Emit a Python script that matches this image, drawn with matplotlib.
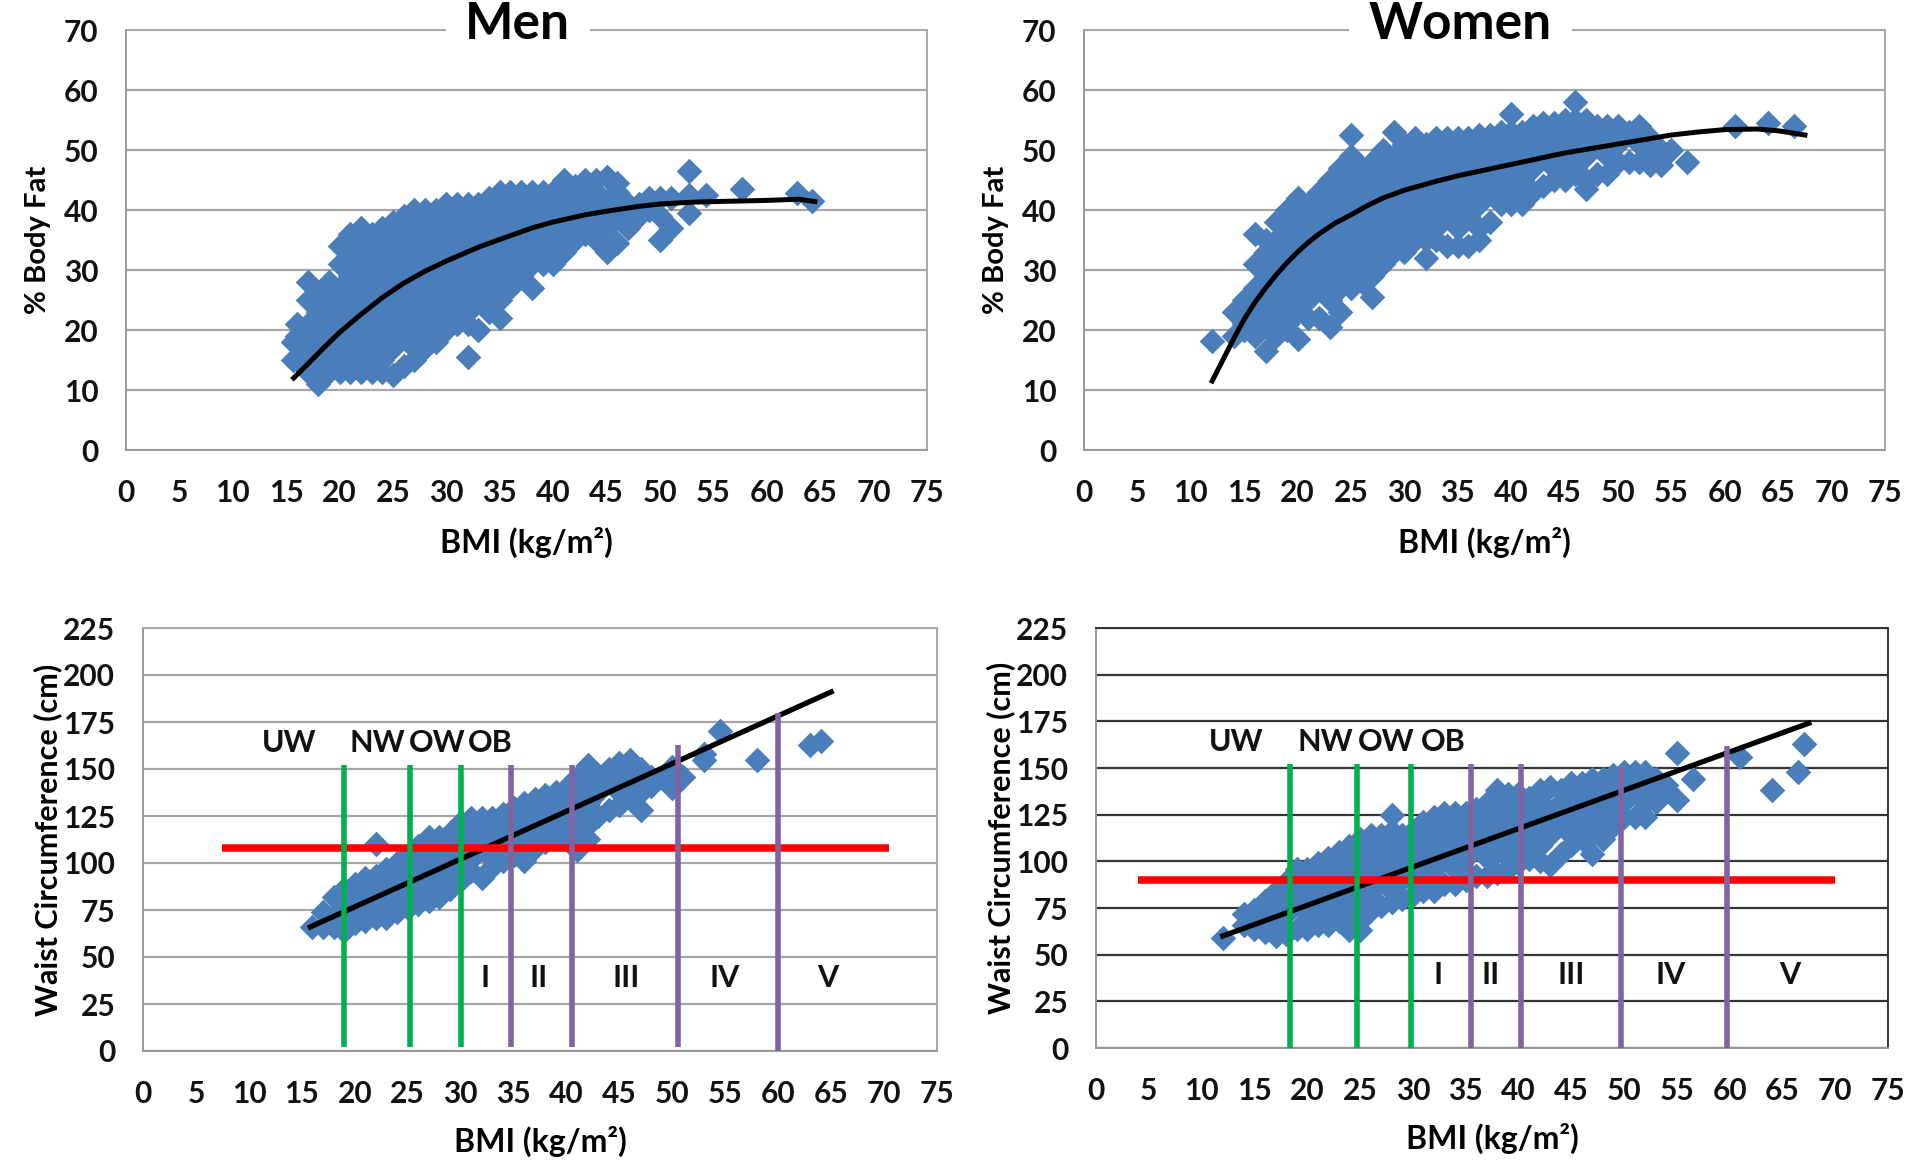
import matplotlib
matplotlib.use("Agg")
import matplotlib.pyplot as plt

plt.rcParams['font.family'] = ['Lato', 'DejaVu Sans']
plt.rcParams['font.weight'] = 'bold'

W, H = 1920, 1171
BLUE = '#4a7ebb'
GREEN = '#00b050'
PURPLE = '#8064a2'

bmi_ticks = list(range(0, 80, 5))
fat_ticks = [0, 10, 20, 30, 40, 50, 60, 70]
waist_ticks = [0, 25, 50, 75, 100, 125, 150, 175, 200, 225]

men_fat = [
    (15.6, [15, 18]), (16, [15, 19, 21]), (17, [13, 17, 21, 25, 28]),
    (18, [11, 15, 19, 23, 26]), (19, [13, 17, 21, 25, 28]),
    (20, [13, 15, 19, 23, 27, 31, 34]), (21, [13, 17, 21, 25, 29, 33, 36]),
    (22, [13, 15, 19, 23, 27, 31, 35, 37]), (23, [13, 17, 21, 25, 29, 33, 36]),
    (24, [13, 15, 19, 23, 27, 31, 35, 37]), (25, [12.5, 17, 21, 25, 29, 33, 37, 38]),
    (26, [14, 19, 23, 27, 31, 35, 39]), (27, [15, 17, 21, 25, 29, 33, 37, 40]),
    (28, [17, 19, 23, 27, 31, 35, 39, 40]), (29, [18, 21, 25, 29, 33, 37, 40]),
    (30, [20, 23, 27, 31, 35, 39, 41]), (31, [21, 25, 29, 33, 37, 41]),
    (32, [15.5, 21, 23, 27, 31, 35, 39, 41]), (33, [20, 25, 29, 33, 37, 41]),
    (34, [23, 27, 31, 35, 39, 42]), (35, [22, 25, 29, 33, 37, 41, 43]),
    (36, [27, 31, 35, 39, 43]), (37, [29, 33, 37, 41, 43]),
    (38, [27, 31, 35, 39, 43]), (39, [31, 33, 37, 41, 43]),
    (40, [31, 35, 39, 43]), (41, [33, 37, 41, 45]), (42, [35, 39, 43, 44]),
    (43, [36, 37, 41, 45]), (44, [35, 39, 43, 45]), (45, [33, 37, 41, 45.5]),
    (46, [34.5, 39, 43, 44.5]), (47, [37, 41]), (48, [39, 41]),
    (49, [40, 42]), (50, [35, 39, 42]), (51, [37, 42]),
    (52.7, [39.5, 42.5, 46.5]), (54.3, [42.5]), (57.7, [43.5]),
    (62.8, [42.8]), (64.2, [41.5]),
]
women_fat = [
    (12, [18.2]), (14, [19, 23]), (15, [20, 21, 25]), (16, [19, 23, 27, 31, 36]),
    (17, [16.5, 21, 25, 29, 33, 35]), (18, [19, 23, 27, 31, 35, 38]),
    (19, [20, 21, 25, 29, 33, 37, 40]), (20, [18.5, 23, 27, 31, 35, 39, 42]),
    (21, [22, 25, 29, 33, 37, 41]), (22, [22, 27, 31, 35, 39, 43]),
    (23, [20.5, 25, 29, 33, 37, 41, 45]), (24, [23, 27, 31, 35, 39, 43, 47]),
    (25, [27, 29, 33, 37, 41, 45, 49, 52.5]), (26, [28, 31, 35, 39, 43, 47]),
    (27, [25.5, 29, 33, 37, 41, 45, 48]), (28, [31, 35, 39, 43, 47, 50]),
    (29, [33, 37, 41, 45, 49, 53]), (30, [33, 35, 39, 43, 47, 51]),
    (31, [35, 37, 41, 45, 49, 52]), (32, [32, 35, 39, 43, 47, 51]),
    (33, [35, 37, 41, 45, 49, 52]), (34, [34, 39, 43, 47, 51, 52]),
    (35, [34, 37, 41, 45, 49, 52]), (36, [34, 39, 43, 47, 51, 52]),
    (37, [35, 37, 41, 45, 49, 52.5]), (38, [38, 43, 47, 51, 52.5]),
    (39, [41, 45, 49, 53]), (40, [41, 43, 47, 51, 53, 56]),
    (41, [41, 45, 49, 53]), (42, [43, 47, 51, 54]), (43, [44, 49, 53, 54.5]),
    (44, [45, 47, 51, 54.5]), (45, [45, 49, 53, 55]), (46, [46, 47, 51, 55, 58]),
    (47, [43.5, 45, 49, 53, 55]), (48, [46, 51, 54]), (49, [46, 49, 53, 54]),
    (50, [48, 51, 54]), (51, [48, 53]), (52, [48, 51, 54]), (53, [47.5, 49, 52]),
    (54, [47.5, 50]), (55, [50]), (56.5, [48]),
    (61, [54]), (64, [54.5]), (66.5, [54]),
]
men_waist = [
    (16, [66]), (17, [66, 74]), (18, [66, 72, 82]), (19, [64, 66, 78, 86]),
    (20, [68, 72, 84, 89]), (21, [69, 78, 90, 92]), (22, [71, 84, 93, 110]),
    (23, [71, 78, 90, 97]), (24, [74, 84, 96, 100]), (25, [76, 78, 90, 102, 104]),
    (26, [78, 84, 96, 108, 109]), (27, [80, 90, 102, 114]), (28, [82, 84, 96, 108, 114]),
    (29, [86, 90, 102, 114, 116]), (30, [91, 96, 108, 120, 122]), (31, [96, 102, 114, 124]),
    (32, [92, 108, 120, 124]), (33, [98, 102, 114, 124]), (34, [101, 108, 120, 126]),
    (35, [104, 114, 126, 129]), (36, [101, 108, 120, 132]), (37, [108, 114, 126, 134]),
    (38, [111, 120, 132, 136]), (39, [114, 126, 138]), (40, [114, 120, 132, 140]),
    (41, [107, 114, 126, 138, 146]), (42, [113, 120, 132, 144, 152]), (43, [125, 138, 146]),
    (44, [128, 144, 150]), (45, [131, 138, 150, 153]), (46, [134, 144, 155]),
    (47, [128, 138, 150]), (48, [141, 146]), (49, [146]),
    (50, [140, 151]), (51, [146]), (53, [155, 158]),
    (54.5, [170]), (58, [155]), (63, [163]), (64, [165]),
]
women_waist = [
    (12, [59]), (14, [66, 72]), (15, [64, 74]), (16, [62, 72, 79]),
    (17, [60, 66, 78, 84]), (18, [61, 72, 84, 89]), (19, [64, 78, 90, 96]),
    (20, [64, 72, 84, 96]), (21, [66, 78, 90, 99]), (22, [66, 72, 84, 96, 102]),
    (23, [68, 78, 90, 102, 105]), (24, [63, 72, 84, 96, 108]), (25, [63, 68, 78, 90, 102, 112]),
    (26, [74, 84, 96, 108, 114]), (27, [76, 90, 102, 114]),
    (28, [78, 84, 96, 108, 116, 125]), (29, [80, 90, 102, 114]), (30, [82, 96, 108, 116]),
    (31, [84, 90, 102, 114, 121]), (32, [84, 96, 108, 120, 124]), (33, [88, 102, 114, 126]),
    (34, [88, 96, 108, 120, 126]), (35, [90, 102, 114, 126]), (36, [92, 108, 120, 128]),
    (37, [92, 102, 114, 126, 131]), (38, [94, 108, 120, 132, 138]), (39, [96, 102, 114, 126, 136]),
    (40, [99, 108, 120, 132, 136]), (41, [101, 114, 126, 134]), (42, [100, 108, 120, 132, 138]),
    (43, [98, 114, 126, 140]), (44, [104, 120, 132, 138]), (45, [109, 114, 126, 138, 142]),
    (46, [112, 120, 132, 142]), (47, [104, 114, 126, 138, 144]), (48, [112, 120, 132, 144]),
    (49, [119, 126, 138, 146]), (50, [124, 132, 144, 148]), (51, [124, 138, 148]),
    (52, [124, 132, 144, 148]), (53, [132, 138, 144]), (54, [139, 141]),
    (55, [158, 133]), (56.5, [144]), (61, [156]), (64, [138]),
    (66.5, [148]), (67, [163]),
]

men_fat_curve_x = [15.7, 17, 18.5, 20, 22, 24, 26, 28, 30, 33, 35, 38, 40, 43, 45, 48, 50, 53, 55, 60, 63, 64.5]
men_fat_curve_y = [12, 14.3, 17, 19.6, 22.6, 25.4, 27.8, 29.8, 31.5, 33.8, 35.1, 37, 38, 39.2, 39.8, 40.6, 41, 41.3, 41.4, 41.6, 41.8, 41.4]
women_fat_curve_x = [12, 13, 14, 15, 16, 17, 18, 19, 20, 21, 22, 23.5, 25, 26.5, 28, 30, 33, 35, 40, 45, 50, 55, 57.5, 60, 63, 65, 67.5]
women_fat_curve_y = [11.5, 15, 18.5, 21.8, 24.6, 27, 29.2, 31.2, 33, 34.6, 36, 37.8, 39.2, 40.7, 42, 43.3, 44.8, 45.7, 47.6, 49.5, 51, 52.5, 53, 53.4, 53.5, 53.2, 52.5]
men_waist_line_x = [15.8, 65]
men_waist_line_y = [66, 191]
women_waist_line_x = [12, 67.5]
women_waist_line_y = [60, 174]

men_cut_bmi = [19, 25.2, 30, 34.8, 40.5, 50.5, 60]
men_cut_top = [152, 152, 152, 152, 152, 163, 180]
men_cut_bottom = [2, 2, 2, 2, 2, 2, 0]
women_cut_bmi = [18.4, 24.7, 29.8, 35.5, 40.2, 49.7, 59.8]
women_cut_top = [152, 152, 152, 152, 152, 150, 162]
women_cut_bottom = [0, 0, 0, 0, 0, 0, 0]
men_waist_limit = 108
women_waist_limit = 90
men_limit_span = [7.5, 70.5]
women_limit_span = [4, 70]

class_names = ['UW', 'NW', 'OW', 'OB']
men_class_x = [13.8, 22.1, 27.8, 32.8]
women_class_x = [13.3, 21.7, 27.5, 32.9]
grade_names = ['I', 'II', 'III', 'IV', 'V']
men_grade_x = [32.3, 37.4, 45.6, 54.9, 64.7]
women_grade_x = [32.4, 37.4, 45, 54.4, 65.7]


def px_axes(fig, left, right, top, bottom):
    return fig.add_axes([left / W, 1 - bottom / H, (right - left) / W, (bottom - top) / H])


def base_panel(ax, yticks, ylabel, ygrid, xlabel_pad, ylabel_x, ylabel_size):
    ax.set_xlim(0, 75)
    ax.set_ylim(yticks[0], yticks[-1])
    ax.set_xticks(bmi_ticks)
    ax.set_yticks(yticks)
    ax.tick_params(axis='x', length=0, labelsize=21.5, pad=21, colors='#111111')
    ax.tick_params(axis='y', length=0, labelsize=21.5, pad=20, colors='#111111')
    ax.grid(axis='y', color=ygrid, lw=1.6)
    ax.set_axisbelow(True)
    for s in ax.spines.values():
        s.set_color(ygrid)
        s.set_linewidth(1.4)
    ax.spines['left'].set_color('#999999')
    ax.spines['bottom'].set_color('#999999')
    ax.set_xlabel('BMI (kg/m²)', fontsize=23, fontweight='bold', labelpad=xlabel_pad)
    ax.set_ylabel(ylabel, fontsize=ylabel_size, fontweight='bold')
    ax.yaxis.set_label_coords(ylabel_x, 0.5)


def draw_cloud(ax, rows):
    xs = []
    ys = []
    for bmi, values in rows:
        for v in values:
            xs.append(bmi)
            ys.append(v)
    ax.scatter(xs, ys, marker='D', s=170, color=BLUE, linewidths=0, zorder=2)


def fat_panel(ax, rows, cx, cy, title, title_x):
    base_panel(ax, fat_ticks, '% Body Fat', '#a6a6a6', 14, -0.094, 21)
    draw_cloud(ax, rows)
    ax.plot(cx, cy, color='black', lw=3.6, zorder=3)
    ax.text(title_x, 1.012, title, transform=ax.transAxes, ha='center', va='center',
            fontsize=37, fontweight='bold', color='black', zorder=5,
            bbox=dict(facecolor='white', edgecolor='none', pad=14))


def waist_panel(ax, rows, lx, ly, cuts, tops, bottoms, limit, span, class_x, grade_x, ygrid):
    base_panel(ax, waist_ticks, 'Waist Circumference (cm)', ygrid, 13, -0.102, 22)
    draw_cloud(ax, rows)
    ax.plot(lx, ly, color='black', lw=3.8, zorder=3)
    ax.plot(span, [limit, limit], color='#ff0000', lw=5.4, zorder=4, solid_capstyle='butt')
    for i in range(len(cuts)):
        col = GREEN if i < 3 else PURPLE
        ax.plot([cuts[i], cuts[i]], [bottoms[i], tops[i]], color=col, lw=4, zorder=5, solid_capstyle='butt')
    for name, x in zip(class_names, class_x):
        ax.text(x, 164, name, ha='center', va='center', fontsize=22, fontweight='bold', color='#111111', zorder=6)
    for name, x in zip(grade_names, grade_x):
        ax.text(x, 39, name, ha='center', va='center', fontsize=22, fontweight='bold', color='#111111', zorder=6)


fig = plt.figure(figsize=(W / 100, H / 100), dpi=100)

ax = px_axes(fig, 126, 927, 30, 450)
fat_panel(ax, men_fat, men_fat_curve_x, men_fat_curve_y, 'Men', 0.489)
ax = px_axes(fig, 1084, 1885, 30, 450)
fat_panel(ax, women_fat, women_fat_curve_x, women_fat_curve_y, 'Women', 0.47)

ax = px_axes(fig, 143, 937, 628, 1051)
waist_panel(ax, men_waist, men_waist_line_x, men_waist_line_y, men_cut_bmi, men_cut_top, men_cut_bottom,
            men_waist_limit, men_limit_span, men_class_x, men_grade_x, '#a6a6a6')
ax = px_axes(fig, 1096, 1888, 628, 1048)
waist_panel(ax, women_waist, women_waist_line_x, women_waist_line_y, women_cut_bmi, women_cut_top, women_cut_bottom,
            women_waist_limit, women_limit_span, women_class_x, women_grade_x, '#333333')

plt.savefig("out.png", dpi=100)
